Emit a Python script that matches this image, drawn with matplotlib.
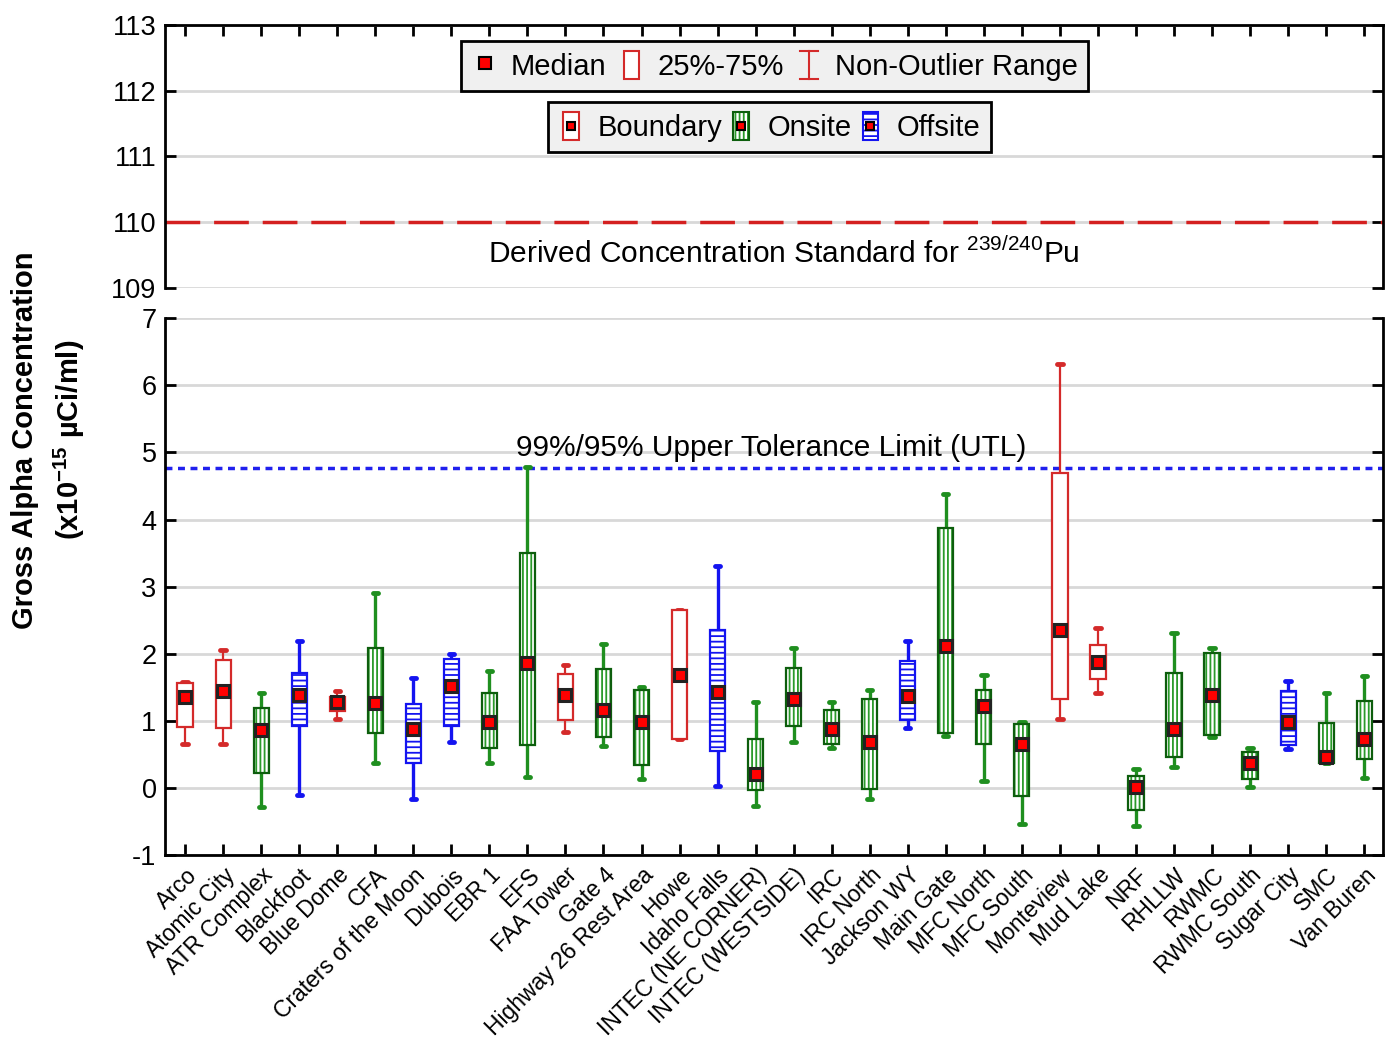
import numpy as np
import matplotlib
matplotlib.use("Agg")
import matplotlib.pyplot as plt
from matplotlib.lines import Line2D
from matplotlib.patches import Rectangle
from matplotlib.legend_handler import HandlerBase

plt.rcParams['font.family'] = ['Liberation Sans', 'DejaVu Sans']
plt.rcParams['mathtext.fontset'] = 'custom'
plt.rcParams['mathtext.rm'] = 'Liberation Sans'
plt.rcParams['mathtext.bf'] = 'Liberation Sans:bold'
plt.rcParams['hatch.linewidth'] = 1.3
plt.rcParams['axes.unicode_minus'] = False

# ---- data ----
sites = ["Arco", "Atomic City", "ATR Complex", "Blackfoot", "Blue Dome", "CFA",
         "Craters of the Moon", "Dubois", "EBR 1", "EFS", "FAA Tower", "Gate 4",
         "Highway 26 Rest Area", "Howe", "Idaho Falls", "INTEC (NE CORNER)",
         "INTEC (WESTSIDE)", "IRC", "IRC North", "Jackson WY", "Main Gate",
         "MFC North", "MFC South", "Monteview", "Mud Lake", "NRF", "RHLLW",
         "RWMC", "RWMC South", "Sugar City", "SMC", "Van Buren"]
group = ["B", "B", "O", "F", "B", "O", "F", "F", "O", "O", "B", "O", "O", "B", "F", "O",
         "O", "O", "O", "F", "O", "O", "O", "B", "B", "O", "O", "O", "O", "F", "O", "O"]
wlo = [0.66, 0.66, -0.28, -0.10, 1.03, 0.38, -0.16, 0.68, 0.37, 0.17, 0.83, 0.62, 0.13, 0.73,
       0.03, -0.26, 0.68, 0.60, -0.16, 0.89, 0.78, 0.11, -0.54, 1.03, 1.41, -0.56, 0.31,
       0.76, 0.01, 0.58, 0.37, 0.15]
q1 = [0.91, 0.89, 0.23, 0.93, 1.15, 0.82, 0.38, 0.93, 0.60, 0.64, 1.01, 0.76, 0.34, 0.73,
      0.56, -0.03, 0.93, 0.66, -0.01, 1.01, 0.82, 0.66, -0.11, 1.33, 1.62, -0.32, 0.46,
      0.79, 0.13, 0.64, 0.37, 0.44]
med = [1.35, 1.45, 0.86, 1.39, 1.29, 1.27, 0.88, 1.52, 0.98, 1.86, 1.39, 1.16, 0.99, 1.68,
       1.43, 0.21, 1.33, 0.88, 0.68, 1.37, 2.12, 1.23, 0.65, 2.35, 1.88, 0.01, 0.88,
       1.39, 0.37, 0.98, 0.47, 0.73]
q3 = [1.56, 1.91, 1.20, 1.72, 1.36, 2.09, 1.25, 1.92, 1.42, 3.50, 1.70, 1.77, 1.46, 2.65,
      2.35, 0.73, 1.79, 1.17, 1.32, 1.89, 3.87, 1.46, 0.95, 4.69, 2.13, 0.18, 1.72,
      2.01, 0.54, 1.44, 0.97, 1.30]
whi = [1.58, 2.06, 1.42, 2.19, 1.45, 2.90, 1.64, 2.00, 1.74, 4.78, 1.84, 2.15, 1.50, 2.65,
       3.31, 1.28, 2.09, 1.28, 1.46, 2.19, 4.38, 1.68, 0.98, 6.31, 2.39, 0.29, 2.31,
       2.09, 0.60, 1.60, 1.42, 1.67]
utl = 4.77
dcs = 110

# styles per group: edge, whisker, hatch colour, hatch
style = {
    "B": dict(edge="#d42a2a", wcol="#d42a2a", hcol="#d42a2a", hatch=None, wlw=1.6),
    "O": dict(edge="#0d5e0d", wcol="#1f8f1f", hcol="#2a9a2a", hatch="||||", wlw=2.4),
    "F": dict(edge="#1414f0", wcol="#1414f0", hcol="#1414f0", hatch="---", wlw=2.4),
}

fig = plt.figure(figsize=(13.86, 10.43), dpi=100)
ax_top = fig.add_axes([0.119, 0.724, 0.879, 0.252])
ax = fig.add_axes([0.119, 0.180, 0.879, 0.515])

x = np.arange(len(sites))
bw = 0.40
for i in range(len(sites)):
    s = style[group[i]]
    ax.vlines(x[i], wlo[i], q1[i], color=s["wcol"], lw=s["wlw"], zorder=2)
    ax.vlines(x[i], q3[i], whi[i], color=s["wcol"], lw=s["wlw"], zorder=2)
    ax.hlines([wlo[i], whi[i]], x[i] - 0.07, x[i] + 0.07, color=s["wcol"], lw=3.5,
              capstyle='round', zorder=2)
    if s["hatch"]:
        ax.bar(x[i], q3[i] - q1[i], bottom=q1[i], width=bw, facecolor="white",
               edgecolor=s["hcol"], hatch=s["hatch"], lw=0, zorder=3)
    else:
        ax.bar(x[i], q3[i] - q1[i], bottom=q1[i], width=bw, facecolor="white", lw=0, zorder=3)
    ax.bar(x[i], q3[i] - q1[i], bottom=q1[i], width=bw, fill=False,
           edgecolor=s["edge"], lw=1.6, zorder=4)
ax.plot(x, med, ls='none', marker='s', ms=9, mfc='#ff0000', mec='#222222', mew=2.2, zorder=5)

ax.axhline(utl, color="#2020ee", lw=2.5, ls=(0, (2, 1.6)), zorder=1)
ax.text(15.4, utl + 0.08, "99%/95% Upper Tolerance Limit (UTL)", ha='center', va='bottom',
        fontsize=21.5)
ax_top.axhline(dcs, color="#d42020", lw=2.5, ls=(0, (10, 4)), zorder=1)
ax_top.text(15.75, 109.53, "Derived Concentration Standard for $^{239/240}$Pu",
            ha='center', va='center', fontsize=21.5)

for a, lo, hi in [(ax, -1, 7), (ax_top, 109, 113)]:
    a.set_ylim(lo, hi)
    a.set_xlim(-0.53, len(sites) - 0.5)
    a.set_yticks(np.arange(lo, hi + 1))
    a.grid(axis='y', color='#d8d8d8', lw=2)
    a.set_axisbelow(True)
    a.tick_params(axis='both', direction='in', length=8, width=2, labelsize=19.5,
                  right=True, pad=6)
    for sp in a.spines.values():
        sp.set_linewidth(2)

ax.spines['top'].set_visible(False)
ax_top.spines['bottom'].set_visible(False)
ax.set_xticks(x)
ax.set_xticklabels(sites, rotation=45, ha='right', va='top', rotation_mode='anchor',
                   fontsize=16.5)
ax.tick_params(axis='x', top=False, pad=6)
ax_top.set_xticks(x)
ax_top.tick_params(axis='x', bottom=False, top=True, labelbottom=False)

fig.text(0.018, 0.578, "Gross Alpha Concentration", rotation=90, ha='center', va='center',
         fontsize=21, fontweight='bold')
fig.text(0.050, 0.578, r"(x10$^{\mathbf{-15}}$ µCi/ml)", rotation=90, ha='center',
         va='center', fontsize=21, fontweight='bold')


# ---- legends ----
class IBeam(HandlerBase):
    def create_artists(self, legend, orig_handle, xd, yd, width, height, fontsize, trans):
        cx = width / 2 - xd
        y0, y1 = -yd, height - yd
        w = width * 0.35
        c = orig_handle.get_color()
        return [Line2D([cx, cx], [y0, y1], color=c, lw=1.5, transform=trans),
                Line2D([cx - w, cx + w], [y0, y0], color=c, lw=1.5, transform=trans),
                Line2D([cx - w, cx + w], [y1, y1], color=c, lw=1.5, transform=trans)]


class Holder:
    def __init__(self, edge, hcol, hatch, marker):
        self.edge, self.hcol, self.hatch, self.marker = edge, hcol, hatch, marker


class BoxH(HandlerBase):
    def create_artists(self, legend, h, xd, yd, width, height, fontsize, trans):
        bw_ = width * 0.6
        x0 = width / 2 - xd - bw_ / 2
        out = []
        if h.hatch:
            out.append(Rectangle((x0, -yd), bw_, height, facecolor='white', edgecolor=h.hcol,
                                 hatch=h.hatch, lw=0, transform=trans))
        else:
            out.append(Rectangle((x0, -yd), bw_, height, facecolor='white', lw=0,
                                 transform=trans))
        out.append(Rectangle((x0, -yd), bw_, height, fill=False, edgecolor=h.edge, lw=1.5,
                             transform=trans))
        if h.marker:
            out.append(Line2D([width / 2 - xd], [height / 2 - yd], marker='s', ms=6,
                              mfc='#ff0000', mec='black', mew=1.5, transform=trans))
        return out


legkw = dict(loc='center', fontsize=21, frameon=True, fancybox=False, framealpha=1,
             facecolor='#f0f0f0', edgecolor='black', handlelength=0.9, handleheight=1.1,
             handletextpad=0.45, borderpad=0.35, borderaxespad=0, ncol=3)

med_h = Line2D([], [], ls='none', marker='s', ms=8, mfc='#ff0000', mec='black', mew=1.5)
box_h = Holder("#d42a2a", "#d42a2a", None, False)
rng_h = Line2D([], [], color="#d42a2a")
leg1 = fig.legend([med_h, box_h, rng_h], ["Median", "25%-75%", "Non-Outlier Range"],
                  handler_map={Holder: BoxH(), rng_h: IBeam()},
                  bbox_to_anchor=(0.559, 0.937), columnspacing=0.4, **legkw)
leg1.get_frame().set_linewidth(2)

b_h = Holder(style["B"]["edge"], style["B"]["hcol"], None, True)
o_h = Holder(style["O"]["edge"], style["O"]["hcol"], "||||", True)
f_h = Holder(style["F"]["edge"], style["F"]["hcol"], "---", True)
leg2 = fig.legend([b_h, o_h, f_h], ["Boundary", "Onsite", "Offsite"],
                  handler_map={Holder: BoxH()},
                  bbox_to_anchor=(0.555, 0.878), columnspacing=0.2, **legkw)
leg2.get_frame().set_linewidth(2)

fig.savefig("out.png", dpi=100)
